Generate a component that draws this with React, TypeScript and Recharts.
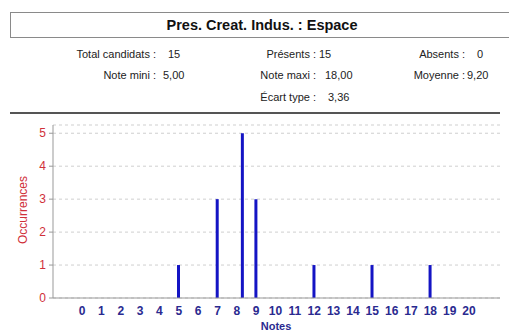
import { BarChart, Bar, XAxis, YAxis, CartesianGrid } from "recharts";

const notes = [5, 7, 8.3, 9, 12, 15, 18];
const occurrences = [1, 3, 5, 3, 1, 1, 1];
const noteTicks = [0, 1, 2, 3, 4, 5, 6, 7, 8, 9, 10, 11, 12, 13, 14, 15, 16, 17, 18, 19, 20];
const occTicks = [0, 1, 2, 3, 4, 5];

const statsRow1 = [
  { label: "Total candidats :", value: "15" },
  { label: "Présents :", value: "15" },
  { label: "Absents :", value: "0" },
];
const statsRow2 = [
  { label: "Note mini :", value: "5,00" },
  { label: "Note maxi :", value: "18,00" },
  { label: "Moyenne :", value: "9,20" },
];
const statsRow3 = [{ label: "Écart type :", value: "3,36" }];

const data = notes.map((n, i) => ({ note: n, count: occurrences[i] }));

const font = "'Liberation Sans', Arial, sans-serif";

// colon x and value x for each of the three stat columns
const colColon = [156, 316, 465];
const colValue = [[168, 163], [319, 325], [477, 467]];

function Stat({ label, value, col, row, y }: { label: string; value: string; col: number; row: number; y: number }) {
  const vx = row === 2 ? 328 : colValue[col][row];
  return (
    <>
      <div style={{ position: "absolute", right: 509 - colColon[col], top: y, whiteSpace: "nowrap" }}>{label}</div>
      <div style={{ position: "absolute", left: vx, top: y, whiteSpace: "nowrap" }}>{value}</div>
    </>
  );
}

export default function App() {
  return (
    <div style={{ position: "absolute", left: 0, top: 0, width: 509, height: 332, background: "#fff", overflow: "hidden", fontFamily: font }}>
      <div
        style={{
          position: "absolute",
          left: 10,
          top: 12,
          width: 510,
          height: 24,
          border: "1px solid #8a8a8a",
          textAlign: "center",
          lineHeight: "24px",
          fontWeight: "bold",
          fontSize: 14.5,
          color: "#111",
        }}
      >
        <span style={{ position: "relative", left: -4 }}>Pres. Creat. Indus. : Espace</span>
      </div>
      <div style={{ position: "absolute", left: 0, top: 0, width: 509, fontSize: 11, color: "#222" }}>
        {statsRow1.map((s, i) => (
          <Stat key={s.label} label={s.label} value={s.value} col={i} row={0} y={48} />
        ))}
        {statsRow2.map((s, i) => (
          <Stat key={s.label} label={s.label} value={s.value} col={i} row={1} y={69} />
        ))}
        {statsRow3.map((s) => (
          <Stat key={s.label} label={s.label} value={s.value} col={1} row={2} y={91} />
        ))}
      </div>
      <div style={{ position: "absolute", left: 10, top: 112, width: 490, height: 2, background: "#555" }} />
      <div
        style={{
          position: "absolute",
          left: 23,
          top: 210,
          transform: "translate(-50%, -50%) rotate(-90deg)",
          color: "#d0303a",
          fontSize: 12,
          whiteSpace: "nowrap",
        }}
      >
        Occurrences
      </div>
      <div style={{ position: "absolute", left: 276, top: 326, transform: "translate(-50%, -50%)", color: "#2a2a90", fontSize: 11, fontWeight: "bold" }}>
        Notes
      </div>
      <div style={{ position: "absolute", left: 0, top: 110 }}>
        <BarChart width={509} height={222} data={data} margin={{ top: 15, right: 9, bottom: 4, left: 23 }}>
          <CartesianGrid vertical={false} stroke="#cfcfcf" strokeDasharray="3 3" />
          <XAxis
            dataKey="note"
            type="number"
            domain={[-1.5, 21.6]}
            ticks={noteTicks}
            interval={0}
            allowDataOverflow
            height={30}
            tickLine={false}
            tickSize={0}
            tickMargin={8}
            stroke="#999"
            tick={{ fill: "#2a2a90", fontSize: 12, fontWeight: "bold", fontFamily: font }}
          />
          <YAxis
            width={30}
            domain={[0, 5.25]}
            ticks={occTicks}
            allowDataOverflow
            tickSize={4}
            tickMargin={3}
            stroke="#999"
            tick={{ fill: "#d0303a", fontSize: 12, fontFamily: font }}
          />
          <Bar dataKey="count" fill="#1414c4" barSize={3} isAnimationActive={false} />
        </BarChart>
      </div>
    </div>
  );
}
